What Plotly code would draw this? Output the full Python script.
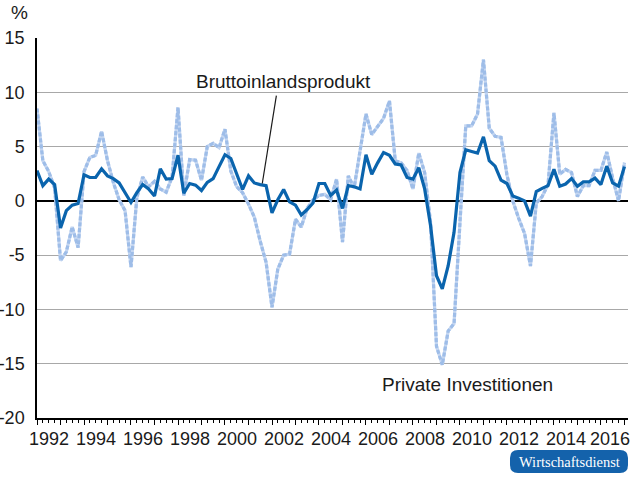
import plotly.graph_objects as go
import pandas as pd

# quarterly growth rates vs. previous year, in %
quarters = pd.period_range("1992Q1", "2017Q1", freq="Q")
dates = quarters.to_timestamp(how="start")

bip = [2.8, 1.4, 2.0, 1.5,
       -2.5, -0.9, -0.4, -0.25,
       2.4, 2.15, 2.15, 2.95,
       2.3, 2.05, 1.65, 0.8,
       -0.15, 0.75, 1.5, 1.1,
       0.45, 2.95, 2.0, 2.05,
       4.2, 0.7, 1.6, 1.45,
       0.95, 1.7, 2.05, 3.15,
       4.25, 3.9, 2.5, 1.05,
       2.3, 1.65, 1.5, 1.4,
       -1.1, 0.1, 1.05, -0.1,
       -0.4, -1.3, -0.8, -0.2,
       1.6, 1.6, 0.5, 1.0,
       -0.7, 1.4, 1.3, 1.1,
       4.25, 2.45, 3.5, 4.45,
       4.2, 3.4, 3.3, 2.15,
       2.0, 3.05, 1.1, -2.3,
       -6.9, -8.1, -6.0, -2.9,
       2.6, 4.7, 4.55, 4.4,
       5.9, 3.7, 3.2, 1.9,
       1.6, 0.45, 0.25, 0.0,
       -1.4, 0.85, 1.15, 1.4,
       2.9, 1.35, 1.55, 2.05,
       1.35, 1.75, 1.75, 2.1,
       1.5, 3.2, 1.65, 1.35,
       3.15]

invest = [8.5, 3.7, 2.7, 1.2,
          -5.5, -4.7, -2.4, -4.3,
          2.7, 4.0, 4.2, 6.4,
          3.7, 1.7, 0.1, -0.9,
          -6.1, 0.3, 2.2, 1.3,
          1.8, 1.1, 0.8, 2.2,
          8.6, 0.5, 3.8, 3.75,
          1.9, 5.0, 5.3, 4.9,
          6.6, 2.75, 1.3, 0.75,
          -0.3, -1.5, -3.7, -5.65,
          -9.8, -6.3, -5.0, -4.9,
          -1.7, -2.4, -0.7, 0.1,
          0.5, 0.6, 0.1, 2.0,
          -3.8, 2.3, 1.2, 4.7,
          8.0, 6.1, 6.9, 7.6,
          9.2, 3.7, 3.5, 2.8,
          1.1, 4.4, 2.6, -2.0,
          -13.4, -15.1, -12.0, -11.3,
          -2.0, 6.9, 6.9, 8.0,
          13.0, 6.7, 5.95, 5.85,
          2.4, 0.0, -1.6, -3.0,
          -6.0, -0.2, 0.4, 1.5,
          8.1, 2.45, 2.9, 2.6,
          0.4, 1.4, 1.4, 2.8,
          2.8, 4.5, 2.1, 0.0,
          3.5]

y_ticks = [15, 10, 5, 0, -5, -10, -15, -20]
year_labels = list(range(1992, 2017, 2))

FONT = "Liberation Sans, Arial, sans-serif"
TXT = "#1a1a1a"
DARK = "#0a64ad"
LIGHT = "#9ebde8"
FS = 19

fig = go.Figure()

# private Investitionen: light line with a dotted look
fig.add_trace(go.Scatter(x=dates, y=invest, mode="lines",
                         line=dict(color="#c4d6f1", width=3.2),
                         hoverinfo="skip", showlegend=False))
fig.add_trace(go.Scatter(x=dates, y=invest, mode="lines", name="Private Investitionen",
                         line=dict(color=LIGHT, width=3.2, dash="4px,2px"),
                         showlegend=False))
fig.add_trace(go.Scatter(x=dates, y=bip, mode="lines", name="Bruttoinlandsprodukt",
                         line=dict(color=DARK, width=3.2),
                         showlegend=False))

W, H = 630, 477
L, R, T, B = 37, 2, 38, 59
pw, ph = W - L - R, H - T - B


def px2paper(x, y):
    return (x - L) / pw, (H - B - y) / ph


def rounded_box(x0, y0, x1, y1, r):
    pts = []
    a = px2paper(x0 + r, y0); pts.append("M %f,%f" % a)
    b = px2paper(x1 - r, y0); pts.append("L %f,%f" % b)
    c = px2paper(x1, y0); d = px2paper(x1, y0 + r); pts.append("Q %f,%f %f,%f" % (c + d))
    e = px2paper(x1, y1 - r); pts.append("L %f,%f" % e)
    f = px2paper(x1, y1); g = px2paper(x1 - r, y1); pts.append("Q %f,%f %f,%f" % (f + g))
    h = px2paper(x0 + r, y1); pts.append("L %f,%f" % h)
    i = px2paper(x0, y1); j = px2paper(x0, y1 - r); pts.append("Q %f,%f %f,%f" % (i + j))
    k = px2paper(x0, y0 + r); pts.append("L %f,%f" % k)
    m = px2paper(x0, y0); n = px2paper(x0 + r, y0); pts.append("Q %f,%f %f,%f" % (m + n))
    return " ".join(pts) + " Z"


annotations = []
for yr in year_labels:
    annotations.append(dict(x="%d-07-01" % yr, y=0, xref="x", yref="paper",
                            text=str(yr), showarrow=False, xanchor="center",
                            yanchor="top", yshift=-9,
                            # last label sits right at the page edge
                            xshift=-3 if yr == year_labels[-1] else 0,
                            font=dict(family=FONT, size=18, color=TXT)))

annotations += [
    dict(x="2002-06-25", y=11.0, text="Bruttoinlandsprodukt", showarrow=False,
         xanchor="center", yanchor="middle",
         font=dict(family=FONT, size=FS, color=TXT)),
    dict(x="2010-05-01", y=-16.9, text="Private Investitionen", showarrow=False,
         xanchor="center", yanchor="middle",
         font=dict(family=FONT, size=FS, color=TXT)),
    dict(x=-L / pw, y=1 + 26 / ph, xref="paper", yref="paper", text="%",
         xanchor="left", yanchor="middle", xshift=9, showarrow=False,
         font=dict(family=FONT, size=FS, color=TXT)),
    dict(x=px2paper(569, 0)[0], y=px2paper(0, 461.5)[1], xref="paper", yref="paper",
         text="Wirtschaftsdienst", showarrow=False, xanchor="center", yanchor="middle",
         font=dict(family="Liberation Serif, Times New Roman, serif", size=14.5, color="white")),
]

shapes = [
    dict(type="line", xref="x", yref="y", x0="2001-08-03", y0=1.6, x1="2002-03-10", y1=9.7,
         line=dict(color=TXT, width=1.2)),
    dict(type="path", xref="paper", yref="paper", path=rounded_box(510, 450, 628, 473, 8),
         fillcolor="#1462ab", line=dict(width=0)),
]

fig.update_layout(
    width=W, height=H,
    margin=dict(l=L, r=R, t=T, b=B, autoexpand=False),
    paper_bgcolor="white", plot_bgcolor="white",
    font=dict(family=FONT, size=FS, color=TXT),
    annotations=annotations, shapes=shapes,
    hovermode=False,
)

fig.update_xaxes(
    type="date", range=["1992-01-01", "2017-02-25"],
    showgrid=False, zeroline=False,
    showline=True, linecolor="black", linewidth=1.5,
    tickmode="array", tickvals=["%d-01-01" % y for y in range(1992, 2018)],
    ticks="outside", ticklen=5, tickcolor="black", tickwidth=1,
    showticklabels=False,
    minor=dict(dtick="M3", tick0="1992-01-01", ticks="outside", ticklen=3,
               tickcolor="black", tickwidth=1, showgrid=False),
)

fig.update_yaxes(
    range=[-20, 15], tickmode="array", tickvals=y_ticks,
    ticktext=[str(v) for v in y_ticks],
    showgrid=True, gridcolor="#a8a8a8", gridwidth=1.3,
    zeroline=True, zerolinecolor="black", zerolinewidth=1.5,
    showline=True, linecolor="black", linewidth=1.5,
    ticks="", ticklabelstandoff=7,
    tickfont=dict(family=FONT, size=18, color=TXT),
)

# the page body has a default 8px margin; drop it so the figure fills the window
fig.write_html("out.html", config={"displayModeBar": False},
               post_script="document.body.style.margin='0px';")
